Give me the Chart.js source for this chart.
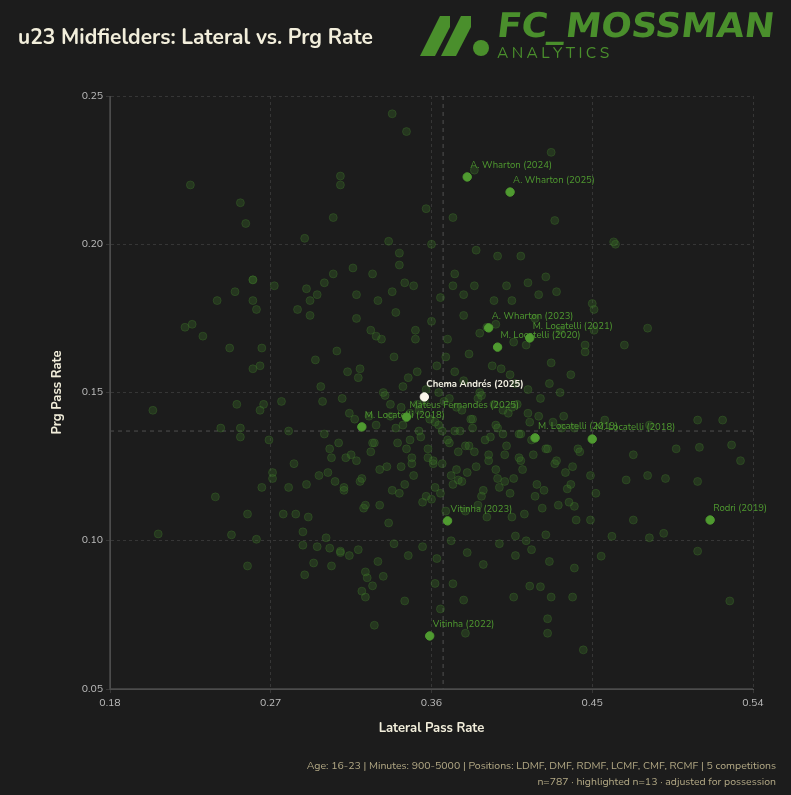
<!DOCTYPE html>
<html><head><meta charset="utf-8">
<script src="https://cdn.jsdelivr.net/npm/chart.js@4/dist/chart.umd.min.js"></script>
<style>html,body{margin:0;padding:0;background:#1c1c1c;}#wrap{position:relative;width:791px;height:795px;}</style>
</head><body><div id="wrap"><canvas id="c" width="791" height="795"></canvas></div>
<script>
const xTicks=[0.18,0.27,0.36,0.45,0.54];
const yTicks=[0.05,0.10,0.15,0.20,0.25];
const meanLateral=0.3665, meanPrg=0.137;
const hlNames=["A. Wharton (2024)","A. Wharton (2025)","A. Wharton (2023)","M. Locatelli (2021)","M. Locatelli (2020)","Mateus Fernandes (2025)","M. Locatelli (2018)","M. Locatelli (2019)","M. Locatelli (2018)","Rodri (2019)","Vitinha (2023)","Vitinha (2022)"];
const hlLateral=[0.380,0.404,0.392,0.415,0.397,0.346,0.321,0.418,0.450,0.516,0.369,0.359];
const hlPrg=[0.2227,0.2176,0.1718,0.1684,0.1653,0.1417,0.1384,0.1347,0.1343,0.107,0.1067,0.0679];
const focusName="Chema Andrés (2025)", focusLateral=0.356, focusPrg=0.1485;
const bgLateral=[0.338,0.346,0.225,0.309,0.309,0.427,0.384,0.253,0.256,0.305,0.357,0.372,0.429,0.289,0.336,0.360,0.463,0.385,
0.342,0.342,0.397,0.410,0.316,0.373,0.424,0.260,0.305,0.327,0.345,0.350,0.372,0.384,0.402,0.414,0.420,0.430,0.450,0.451,0.250,0.272,0.290,0.296,0.318,0.330,0.338,0.365,0.378,0.395,0.405,0.240,0.292,0.300,0.285,
0.260,0.260,0.262,0.222,0.226,0.232,0.247,0.265,0.260,0.264,0.204,0.251,0.266,0.264,0.276,0.253,0.242,0.253,0.269,0.280,
0.239,0.257,0.207,0.248,0.262,0.257,0.265,0.271,0.271,0.280,0.277,0.284,0.291,0.288,0.288,0.301,0.294,0.289,0.303,0.304,0.309,0.314,0.323,0.327,0.333,0.323,0.345,0.328,0.321,0.324,
0.375,0.436,0.441,0.449,0.473,0.482,0.461,0.490,0.509,0.527,0.440,0.455,0.425,0.425,0.445,0.379,0.365,0.378,0.362,0.372,0.407,0.424,0.439,0.427,0.421,0.415,0.406,0.413,0.439,0.449,0.473,0.528,0.533,0.497,0.510,0.509,0.491,0.481,0.440,0.469,
0.462,0.446,0.451,0.468,0.481,0.457,0.482,0.509,0.523,0.438,0.432,
0.292,0.298,0.303,0.307,0.311,0.314,0.318,0.320,0.323,0.326,0.329,0.331,0.334,0.336,0.339,0.341,0.343,0.345,0.347,0.349,0.351,0.353,0.355,0.357,0.359,0.361,0.363,0.365,0.367,0.369,0.371,0.373,0.375,0.377,0.379,0.381,0.383,0.385,0.387,0.389,0.391,0.393,0.395,0.397,0.399,0.401,0.403,0.405,0.407,0.409,0.411,0.413,0.415,0.418,0.421,0.424,0.427,0.430,0.434,0.438,
0.295,0.300,0.306,0.310,0.315,0.319,0.322,0.325,0.328,0.332,0.335,0.337,0.340,0.342,0.344,0.346,0.348,0.350,0.352,0.354,0.356,0.358,0.360,0.362,0.364,0.366,0.368,0.370,0.372,0.374,0.376,0.378,0.380,0.382,0.384,0.386,0.388,0.390,0.392,0.394,0.396,0.398,0.400,0.402,0.404,0.406,0.408,0.410,0.412,0.414,0.417,0.420,0.423,0.426,0.429,0.433,0.437,0.442,
0.297,0.304,0.312,0.317,0.321,0.327,0.333,0.338,0.344,0.349,0.353,0.358,0.362,0.366,0.370,0.374,0.379,0.383,0.388,0.392,0.397,0.401,0.405,0.410,0.416,0.422,0.428,0.435,0.443,0.452,
0.283,0.290,0.299,0.308,0.313,0.320,0.326,0.331,0.337,0.343,0.348,0.352,0.357,0.361,0.364,0.368,0.373,0.377,0.381,0.386,0.391,0.396,0.400,0.404,0.409,0.414,0.419,0.425,0.431,0.440,
0.302,0.311,0.319,0.330,0.339,0.347,0.355,0.363,0.371,0.380,0.389,0.398,0.407,0.416,0.426,
0.296,0.309,0.318,0.329,0.340,0.351,0.360,0.369,0.378,0.387,0.396,0.406,0.418,0.432,0.446];
const bgPrg=[0.244,0.238,0.220,0.223,0.220,0.231,0.225,0.214,0.207,0.209,0.212,0.209,0.208,0.202,0.201,0.200,0.200,0.198,
0.197,0.193,0.196,0.196,0.192,0.190,0.189,0.188,0.190,0.190,0.187,0.186,0.186,0.186,0.186,0.187,0.183,0.184,0.180,0.178,0.184,0.186,0.185,0.183,0.183,0.181,0.184,0.182,0.183,0.181,0.181,0.181,0.181,0.187,0.178,
0.188,0.181,0.178,0.172,0.173,0.169,0.165,0.165,0.158,0.159,0.144,0.146,0.146,0.144,0.147,0.138,0.138,0.135,0.134,0.137,
0.1148,0.109,0.1023,0.102,0.1005,0.0915,0.118,0.123,0.121,0.118,0.109,0.109,0.108,0.103,0.0985,0.101,0.0925,0.0885,0.0975,0.0915,0.0965,0.095,0.0895,0.0848,0.088,0.081,0.0797,0.0715,0.083,0.0875,
0.1205,0.1175,0.107,0.107,0.107,0.101,0.1015,0.1025,0.0965,0.0797,0.0908,0.0948,0.0737,0.0688,0.0632,0.0688,0.077,0.080,0.0856,0.0855,0.1016,0.102,0.081,0.081,0.0845,0.0847,0.081,0.100,0.125,0.122,0.129,0.1323,0.127,0.131,0.1315,0.120,0.121,0.122,0.1116,0.1205,
0.2008,0.1637,0.171,0.166,0.1717,0.1407,0.139,0.1407,0.1407,0.156,0.150,
0.176,0.152,0.131,0.164,0.118,0.143,0.127,0.158,0.112,0.171,0.139,0.124,0.149,0.106,0.162,0.133,0.145,0.119,0.155,0.128,0.168,0.137,0.113,0.151,0.141,0.126,0.159,0.116,0.147,0.134,0.122,0.157,0.130,0.144,0.110,0.163,0.138,0.125,0.150,0.117,0.172,0.135,0.146,0.121,0.158,0.129,0.143,0.108,0.153,0.136,0.124,0.166,0.140,0.115,0.148,0.131,0.160,0.127,0.142,0.119,
0.161,0.136,0.120,0.148,0.129,0.155,0.111,0.142,0.133,0.168,0.125,0.146,0.138,0.116,0.152,0.131,0.143,0.122,0.157,0.135,0.147,0.128,0.114,0.140,0.150,0.126,0.162,0.133,0.119,0.145,0.137,0.154,0.123,0.141,0.130,0.112,0.149,0.134,0.127,0.159,0.139,0.118,0.144,0.132,0.156,0.121,0.146,0.136,0.109,0.151,0.129,0.142,0.117,0.153,0.126,0.138,0.113,0.131,0.122,0.128,
0.128,0.141,0.121,0.133,0.150,0.117,0.139,0.126,0.144,0.131,0.118,0.137,0.148,0.124,0.132,0.141,0.115,0.129,0.138,0.120,0.145,0.127,0.134,0.111,0.140,0.123,0.130,0.116,0.126,0.119,
0.147,0.133,0.157,0.120,0.130,0.112,0.142,0.125,0.134,0.146,0.115,0.127,0.139,0.110,0.137,0.120,0.132,0.148,0.108,0.124,0.136,0.116,0.128,0.143,0.119,0.131,0.112,0.138,0.123,0.117,
0.097,0.093,0.099,0.095,0.098,0.094,0.100,0.096,0.092,0.099,0.095,0.097,0.093,0.098,0.096,
0.175,0.169,0.177,0.171,0.174,0.168,0.176,0.170,0.173,0.167,0.175,0.171,0.166,0.172,0.168];

const bgData=bgLateral.map((x,i)=>({x:x,y:bgPrg[i]}));
const hlData=hlLateral.map((x,i)=>({x:x,y:hlPrg[i],label:hlNames[i]}));
const focusData=[{x:focusLateral,y:focusPrg,label:focusName}];
const FONT='Nunito, "Noto Sans", Lato, sans-serif';
const GREEN='#4f9a30';

const overlay={id:'overlay',
 beforeDatasetsDraw(chart){
  const {ctx,chartArea:a,scales:{x,y}}=chart;
  ctx.save();ctx.setLineDash([4,4]);ctx.strokeStyle='#505050';ctx.lineWidth=1;
  const mx=x.getPixelForValue(meanLateral),my=y.getPixelForValue(meanPrg);
  ctx.beginPath();ctx.moveTo(mx,a.top);ctx.lineTo(mx,a.bottom);ctx.moveTo(a.left,my);ctx.lineTo(a.right,my);ctx.stroke();
  ctx.setLineDash([]);ctx.strokeStyle='#4a4a4a';ctx.lineWidth=1.5;
  ctx.beginPath();ctx.moveTo(a.left,a.top);ctx.lineTo(a.left,a.bottom);ctx.lineTo(a.right,a.bottom);ctx.stroke();
  ctx.restore();
 },
 afterDatasetsDraw(chart){
  const {ctx,scales:{x,y}}=chart;
  ctx.save();ctx.font='9.5px '+FONT;ctx.textBaseline='alphabetic';ctx.textAlign='left';
  hlData.forEach(p=>{ctx.fillStyle=GREEN;ctx.fillText(p.label,x.getPixelForValue(p.x)+3,y.getPixelForValue(p.y)-9);});
  focusData.forEach(p=>{ctx.fillStyle='#f4f1e4';ctx.font='bold 9.5px '+FONT;ctx.fillText(p.label,x.getPixelForValue(p.x)+2,y.getPixelForValue(p.y)-10);});
  ctx.restore();
 },
 afterDraw(chart){
  const {ctx,chartArea:a}=chart;
  ctx.save();
  ctx.fillStyle='#f2eedb';ctx.font='bold 21px '+FONT;ctx.textAlign='left';ctx.textBaseline='alphabetic';
  ctx.fillText('u23 Midfielders: Lateral vs. Prg Rate',18,44);
  ctx.font='bold 13px '+FONT;ctx.fillStyle='#f2eedb';ctx.textAlign='center';
  ctx.fillText('Lateral Pass Rate',(a.left+a.right)/2,732);
  ctx.translate(61,(a.top+a.bottom)/2);ctx.rotate(-Math.PI/2);ctx.fillText('Prg Pass Rate',0,0);
  ctx.setTransform(1,0,0,1,0,0);
  ctx.font='10.5px '+FONT;ctx.fillStyle='#b3a985';ctx.textAlign='right';
  ctx.fillText('Age: 16-23 | Minutes: 900-5000 | Positions: LDMF, DMF, RDMF, LCMF, CMF, RCMF | 5 competitions',776,769);
  ctx.fillText('n=787 · highlighted n=13 · adjusted for possession',776,785);
  ctx.fillStyle='#4a8f2c';
  ctx.beginPath();ctx.moveTo(420,56);ctx.lineTo(440,16);ctx.lineTo(450,16);ctx.lineTo(450,27);ctx.lineTo(435,56);ctx.closePath();ctx.fill();
  ctx.beginPath();ctx.moveTo(441,56);ctx.lineTo(461,16);ctx.lineTo(471,16);ctx.lineTo(471,27);ctx.lineTo(456,56);ctx.closePath();ctx.fill();
  ctx.beginPath();ctx.arc(481,48,8,0,Math.PI*2);ctx.fill();
  ctx.font='bold 34px "DejaVu Sans", sans-serif';ctx.textAlign='left';
  const t='FC_MOSSMAN';const w=ctx.measureText(t).width;
  ctx.save();ctx.translate(496,37);ctx.transform(277/w,0,-0.12,1,0,0);ctx.fillText(t,0,0);ctx.restore();
  ctx.font='15.5px '+FONT;
  const s='ANALYTICS';let px=497;for(const ch of s){ctx.fillText(ch,px,58);px+=ctx.measureText(ch).width+3.4;}
  ctx.restore();
 }};

new Chart(document.getElementById('c'),{
 type:'scatter',
 data:{datasets:[
  {data:focusData,backgroundColor:'#fbf8ea',borderColor:'#fbf8ea',pointRadius:4.2,order:0},
  {data:hlData,backgroundColor:GREEN,borderColor:GREEN,pointRadius:4.2,order:1},
  {data:bgData,backgroundColor:'rgba(60,115,40,0.30)',borderColor:'rgba(66,125,44,0.32)',borderWidth:1,pointRadius:4,order:2}
 ]},
 options:{responsive:false,animation:false,devicePixelRatio:1,
  layout:{padding:{top:96,right:38,left:0,bottom:0}},
  plugins:{legend:{display:false},tooltip:{enabled:false}},
  scales:{
   x:{type:'linear',min:0.18,max:0.54,afterBuildTicks(s){s.ticks=xTicks.map(v=>({value:v}));},afterFit(s){s.height=106;},
    ticks:{color:'#bdbdbd',font:{size:10.5,family:FONT},padding:4,callback:v=>v.toFixed(2)},
    grid:{color:'#363636',tickLength:4},border:{color:'#555',dash:[3,3]}},
   y:{type:'linear',min:0.05,max:0.25,afterBuildTicks(s){s.ticks=yTicks.map(v=>({value:v}));},afterFit(s){s.width=110;},
    ticks:{color:'#bdbdbd',font:{size:10.5,family:FONT},padding:3,callback:v=>v.toFixed(2)},
    grid:{color:'#363636',tickLength:4},border:{color:'#555',dash:[3,3]}}
  }},
 plugins:[overlay]
});
</script></body></html>
